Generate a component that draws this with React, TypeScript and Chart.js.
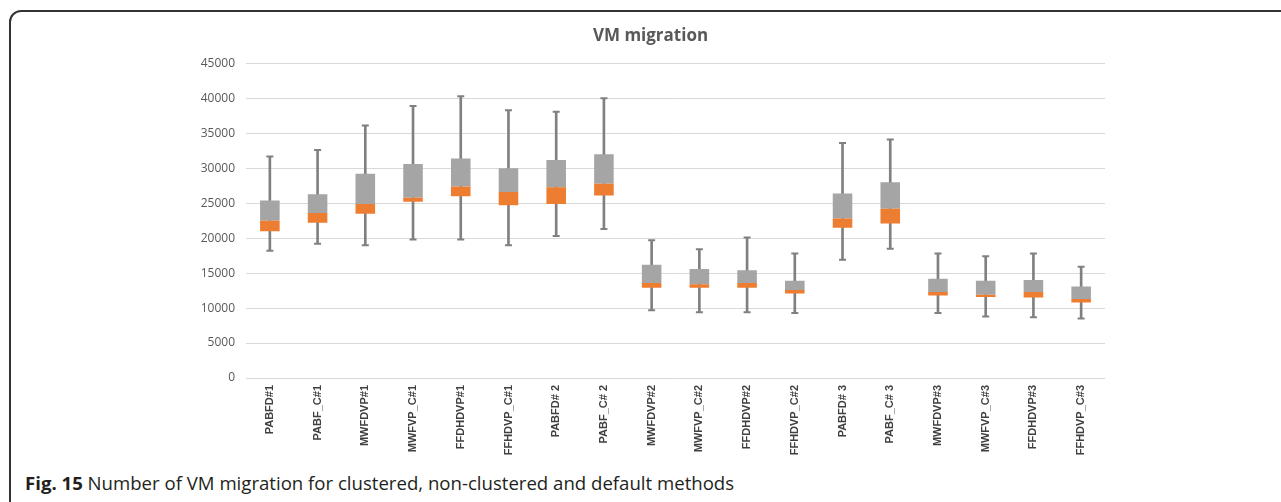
import React, { useEffect, useRef } from "react";
import { Chart, registerables } from "chart.js";

Chart.register(...registerables);

const categories = [
  "PABFD#1", "PABF_C#1", "MWFDVP#1", "MWFVP_C#1", "FFDHDVP#1", "FFHDVP_C#1",
  "PABFD# 2", "PABF_C# 2", "MWFDVP#2", "MWFVP_C#2", "FFDHDVP#2", "FFHDVP_C#2",
  "PABFD# 3", "PABF_C# 3", "MWFDVP#3", "MWFVP_C#3", "FFDHDVP#3", "FFHDVP_C#3",
];
const minValues = [18200, 19200, 19000, 19800, 19800, 19000, 20300, 21300, 9700, 9400, 9400, 9300, 16900, 18500, 9300, 8800, 8700, 8500];
const q1Values = [21000, 22200, 23500, 25200, 26000, 24700, 24900, 26100, 12900, 12900, 12900, 12100, 21500, 22100, 11800, 11600, 11500, 10800];
const medianValues = [22500, 23600, 24900, 25800, 27400, 26600, 27300, 27800, 13600, 13400, 13600, 12600, 22800, 24200, 12300, 11900, 12300, 11300];
const q3Values = [25400, 26300, 29200, 30600, 31400, 30000, 31200, 32000, 16200, 15600, 15400, 13900, 26400, 28000, 14200, 13900, 14000, 13100];
const maxValues = [31700, 32600, 36100, 38900, 40300, 38300, 38100, 40000, 19700, 18400, 20100, 17800, 33600, 34100, 17800, 17400, 17800, 15900];

const GRAY = "#a5a5a5";
const ORANGE = "#ed7d31";
const WHISKER = "#808080";

export default function App() {
  const ref = useRef<HTMLCanvasElement | null>(null);

  useEffect(() => {
    if (!ref.current) return;
    const capDataset = (label: string, data: number[]) =>
      ({
        type: "line",
        label,
        data,
        showLine: false,
        pointStyle: "line",
        pointRadius: 3.5,
        pointBorderWidth: 2,
        borderColor: WHISKER,
        backgroundColor: WHISKER,
        order: 0,
      } as any);
    const chart = new Chart(ref.current, {
      type: "bar",
      data: {
        labels: categories,
        datasets: [
          capDataset("max", maxValues),
          capDataset("min", minValues),
          {
            label: "Q1-median",
            data: q1Values.map((v, i) => [v, medianValues[i]]),
            backgroundColor: ORANGE,
            borderWidth: 0,
            grouped: false,
            categoryPercentage: 1,
            barPercentage: 0.41,
            order: 1,
          } as any,
          {
            label: "median-Q3",
            data: medianValues.map((v, i) => [v, q3Values[i]]),
            backgroundColor: GRAY,
            borderWidth: 0,
            grouped: false,
            categoryPercentage: 1,
            barPercentage: 0.41,
            order: 1,
          } as any,
          {
            label: "range",
            data: minValues.map((v, i) => [v, maxValues[i]]),
            backgroundColor: WHISKER,
            barThickness: 2,
            grouped: false,
            order: 3,
          } as any,
        ],
      },
      options: {
        responsive: false,
        animation: false,
        layout: { padding: { left: 196, right: 176, top: 14, bottom: 0 } },
        plugins: {
          legend: { display: false },
          tooltip: { enabled: false },
          title: {
            display: true,
            text: "VM migration",
            color: "#595959",
            font: { family: "'Open Sans', sans-serif", size: 17, weight: "bold" },
            padding: { top: 12, bottom: 17 },
          },
        },
        scales: {
          x: {
            grid: { display: false, drawTicks: false },
            border: { display: false },
            ticks: {
              color: "#404040",
              font: { family: "'Liberation Sans', Arial, sans-serif", size: 11, weight: "bold" },
              minRotation: 90,
              maxRotation: 90,
              padding: 7,
              autoSkip: false,
            },
            afterFit: (s: any) => {
              s.height = 92;
            },
          },
          y: {
            min: 0,
            max: 45000,
            grid: { color: "#d9d9d9", lineWidth: 1, drawTicks: false },
            border: { display: false },
            ticks: {
              stepSize: 5000,
              color: "#595959",
              font: { family: "'Open Sans', sans-serif", size: 12 },
              padding: 11,
              callback: (v: any) => String(v),
            },
            afterFit: (s: any) => {
              s.width = 50;
            },
          },
        },
      },
    });
    return () => chart.destroy();
  }, []);

  return (
    <div style={{ position: "fixed", left: 0, top: 0, width: 1281, height: 502, overflow: "hidden", background: "#fff" }}>
      <div
        style={{
          position: "absolute",
          left: 9,
          top: 10,
          width: 1300,
          height: 520,
          border: "2px solid #333",
          borderTopLeftRadius: 12,
          boxSizing: "border-box",
        }}
      />
      <canvas ref={ref} width={1281} height={470} style={{ position: "absolute", left: 0, top: 0, width: 1281, height: 470 }} />
      <div
        style={{
          position: "absolute",
          left: 25,
          top: 470,
          fontFamily: "'Open Sans', sans-serif",
          fontSize: 18.6,
          color: "#231f20",
          whiteSpace: "nowrap",
          lineHeight: "25px",
        }}
      >
        <b>Fig. 15</b> Number of VM migration for clustered, non-clustered and default methods
      </div>
    </div>
  );
}
